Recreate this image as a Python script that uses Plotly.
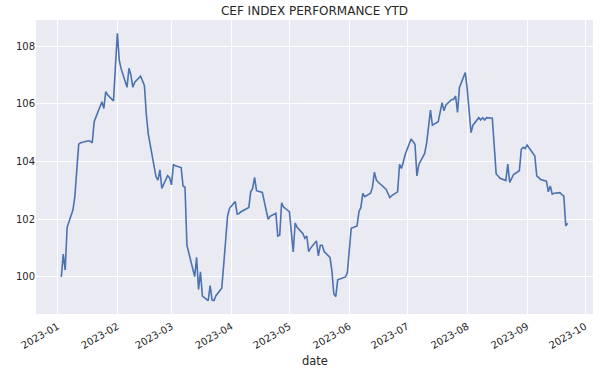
import plotly.graph_objects as go
import pandas as pd

dates = [
    "2023-01-03","2023-01-04","2023-01-05","2023-01-06","2023-01-09","2023-01-10","2023-01-11","2023-01-12","2023-01-13",
    "2023-01-17","2023-01-18","2023-01-19","2023-01-20","2023-01-23","2023-01-24","2023-01-25","2023-01-26","2023-01-27",
    "2023-01-30","2023-01-31","2023-02-01","2023-02-02","2023-02-03","2023-02-06","2023-02-07","2023-02-08","2023-02-09",
    "2023-02-10","2023-02-13","2023-02-14","2023-02-15","2023-02-16","2023-02-17","2023-02-21","2023-02-22","2023-02-23",
    "2023-02-24","2023-02-27","2023-02-28","2023-03-01","2023-03-02","2023-03-03","2023-03-06","2023-03-07","2023-03-08",
    "2023-03-09","2023-03-10","2023-03-13","2023-03-14","2023-03-15","2023-03-16","2023-03-17","2023-03-20","2023-03-21",
    "2023-03-22","2023-03-23","2023-03-24","2023-03-27","2023-03-28","2023-03-29","2023-03-30","2023-03-31","2023-04-03",
    "2023-04-04","2023-04-05","2023-04-06","2023-04-10","2023-04-11","2023-04-12","2023-04-13","2023-04-14","2023-04-17",
    "2023-04-18","2023-04-19","2023-04-20","2023-04-21","2023-04-24","2023-04-25","2023-04-26","2023-04-27","2023-04-28",
    "2023-05-01","2023-05-02","2023-05-03","2023-05-04","2023-05-05","2023-05-08","2023-05-09","2023-05-10","2023-05-11",
    "2023-05-12","2023-05-15","2023-05-16","2023-05-17","2023-05-18","2023-05-19","2023-05-22","2023-05-23","2023-05-24",
    "2023-05-25","2023-05-26","2023-05-30","2023-05-31","2023-06-01","2023-06-02","2023-06-05","2023-06-06","2023-06-07",
    "2023-06-08","2023-06-09","2023-06-12","2023-06-13","2023-06-14","2023-06-15","2023-06-16","2023-06-20","2023-06-21",
    "2023-06-22","2023-06-23","2023-06-26","2023-06-27","2023-06-28","2023-06-29","2023-06-30","2023-07-03","2023-07-05",
    "2023-07-06","2023-07-07","2023-07-10","2023-07-11","2023-07-12","2023-07-13","2023-07-14","2023-07-17","2023-07-18",
    "2023-07-19","2023-07-20","2023-07-21","2023-07-24","2023-07-25","2023-07-26","2023-07-27","2023-07-28","2023-07-31",
    "2023-08-01","2023-08-02","2023-08-03","2023-08-04","2023-08-07","2023-08-08","2023-08-09","2023-08-10","2023-08-11",
    "2023-08-14","2023-08-15","2023-08-16","2023-08-17","2023-08-18","2023-08-21","2023-08-22","2023-08-23","2023-08-24",
    "2023-08-25","2023-08-28","2023-08-29","2023-08-30","2023-08-31","2023-09-01","2023-09-05","2023-09-06","2023-09-07",
    "2023-09-08","2023-09-11","2023-09-12","2023-09-13","2023-09-14","2023-09-15","2023-09-18","2023-09-19","2023-09-20",
    "2023-09-21","2023-09-22",
]

index_values = [
    100.00,100.79,100.24,101.72,102.32,102.78,103.70,104.60,104.65,
    104.72,104.70,104.65,105.38,105.90,106.07,105.84,106.42,106.30,
    106.10,107.30,108.44,107.50,107.20,106.57,107.23,107.00,106.57,
    106.75,106.96,106.80,106.63,105.61,104.95,103.47,103.36,103.71,
    103.07,103.51,103.44,103.19,103.90,103.85,103.79,103.15,103.11,
    101.10,100.85,100.01,100.68,99.57,100.18,99.34,99.18,99.70,
    99.20,99.18,99.35,99.61,100.40,101.30,102.10,102.38,102.61,
    102.18,102.20,102.26,102.41,102.95,103.07,103.45,102.99,102.93,
    102.60,102.30,102.00,102.10,102.21,101.42,101.45,102.57,102.42,
    102.26,101.45,100.87,101.87,101.72,101.50,101.34,101.42,100.88,
    101.00,101.25,100.73,101.10,101.10,100.88,100.68,100.22,99.41,
    99.32,99.90,100.00,100.15,100.90,101.69,101.77,102.26,102.41,
    102.90,102.78,102.90,103.11,103.63,103.36,103.28,103.04,102.90,
    102.75,102.82,102.95,103.90,103.76,104.00,104.26,104.78,104.60,
    103.50,103.90,104.28,104.63,105.20,105.78,105.26,105.38,105.70,
    106.04,105.76,105.96,106.15,106.15,106.27,105.70,106.57,107.08,
    106.53,105.80,105.00,105.26,105.52,105.44,105.52,105.44,105.52,
    105.50,104.63,103.57,103.50,103.42,103.34,103.91,103.28,103.45,
    103.55,103.68,104.42,104.49,104.45,104.57,104.19,103.50,103.42,
    103.38,103.32,102.95,103.15,102.87,102.90,102.92,102.85,102.80,
    101.77,101.86,
]

y_ticks = [100, 102, 104, 106, 108]
x_ticks = ["2023-01-01","2023-02-01","2023-03-01","2023-04-01","2023-05-01",
           "2023-06-01","2023-07-01","2023-08-01","2023-09-01","2023-10-01"]
x_tick_labels = ["2023-01","2023-02","2023-03","2023-04","2023-05",
                 "2023-06","2023-07","2023-08","2023-09","2023-10"]

title_text = "CEF INDEX PERFORMANCE YTD"
x_label = "date"

# matplotlib-like 5% autoscale margins
d = pd.to_datetime(dates)
span = d.max() - d.min()
x_range = [d.min() - span * 0.05, d.max() + span * 0.05]
vmin, vmax = min(index_values), max(index_values)
pad = (vmax - vmin) * 0.05
y_range = [vmin - pad, vmax + pad]

text_color = "#262626"
font_family = "DejaVu Sans"

fig = go.Figure()
fig.add_trace(go.Scatter(
    x=d, y=index_values, mode="lines",
    line=dict(color="#4C72B0", width=1.6),
    hoverinfo="skip", showlegend=False,
))

fig.update_layout(
    width=606, height=374,
    margin=dict(l=36, r=13, t=20, b=60),
    paper_bgcolor="white",
    plot_bgcolor="#EAEAF2",
    font=dict(family=font_family, color=text_color, size=10),
    title=dict(text=title_text, x=0.5, xanchor="center", y=1 - 11 / 374, yanchor="middle",
               xref="paper", font=dict(size=12, color=text_color, family=font_family)),
    showlegend=False,
)
fig.update_xaxes(
    range=x_range, tickmode="array", tickvals=pd.to_datetime(x_ticks), ticktext=x_tick_labels,
    tickangle=-30, showgrid=True, gridcolor="white", gridwidth=1.2,
    zeroline=False, showline=False, ticks="outside", ticklen=2, tickcolor="rgba(0,0,0,0)",
    tickfont=dict(size=10, color=text_color),
)
fig.update_yaxes(
    range=y_range, tickmode="array", tickvals=y_ticks, ticktext=[str(t) for t in y_ticks],
    showgrid=True, gridcolor="white", gridwidth=1.2, zeroline=False, showline=False,
    ticks="", tickfont=dict(size=10, color=text_color),
)
fig.add_annotation(
    text=x_label, x=0.5, y=-(361 - 314) / 294, xref="paper", yref="paper",
    xanchor="center", yanchor="middle", showarrow=False,
    font=dict(size=11.5, color=text_color, family=font_family),
)

fig.write_html(
    "out.html",
    config={"displayModeBar": False},
    post_script="document.body.style.margin='0';document.body.style.overflow='hidden';",
)
